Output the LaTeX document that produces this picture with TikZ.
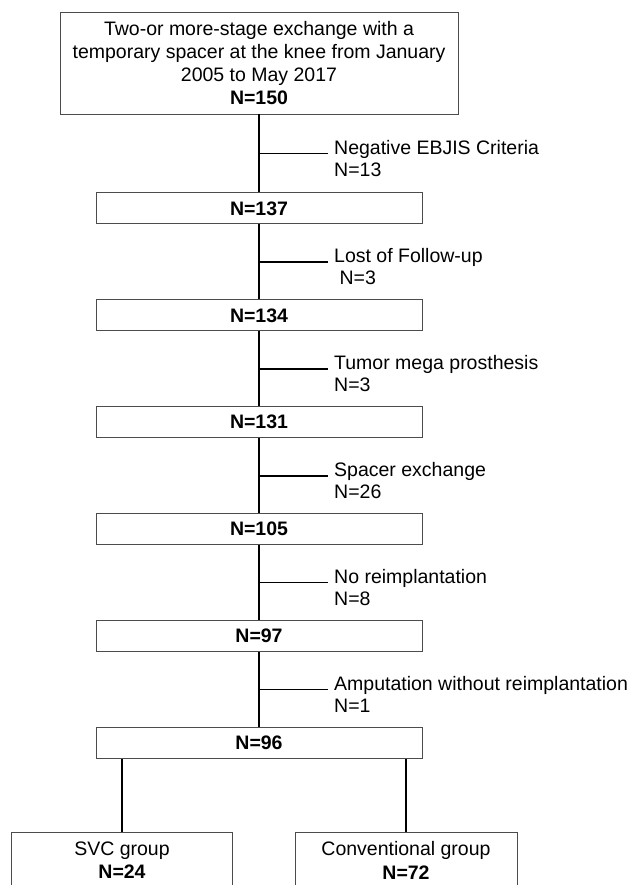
\documentclass[tikz,border=0pt]{standalone}
\usepackage{fontspec}
\setmainfont{Liberation Sans}
\usetikzlibrary{positioning}
\tikzset{
    block/.style={
        draw=black!70, line width=0.9pt,
        minimum width = 326pt,
        minimum height = 31pt,
        align = center, inner sep = 2pt,
        font = \fontsize{19.5}{23.3}\selectfont
    },
    note/.style = {align=left, inner sep=0pt, font=\fontsize{19.5}{22}\selectfont},
    every node/.style = {node distance=75pt},
    line/.style = {line width=1.7pt}
}
\begin{document}
\begin{tikzpicture}
\useasboundingbox (0,0) rectangle (638pt,-885pt);
\clip (0,0) rectangle (638pt,-885pt);

% Boxes
\node[block, minimum width=398pt, minimum height=102pt] (n150) at (259pt,-63pt)
    {Two-or more-stage exchange with a\\ temporary spacer at the knee from January\\ 2005 to May 2017\\ \textbf{N=150}};
\node[block, below = 78pt of n150] (n137) {\textbf{N=137}};
\node[block, below = of n137] (n134) {\textbf{N=134}};
\node[block, below = of n134] (n131) {\textbf{N=131}};
\node[block, below = of n131] (n105) {\textbf{N=105}};
\node[block, below = of n105] (n97) {\textbf{N=97}};
\node[block, below = of n97] (n96) {\textbf{N=96}};

% Groups
\node[block, minimum width=221pt, minimum height=56pt, below = 73pt of n96, xshift=-137pt] (svc) {SVC group\\ \textbf{N=24}};
\node[block, minimum width=222pt, minimum height=56pt, below = 73pt of n96, xshift=147pt] (conv) {Conventional group\\ \textbf{N=72}};

% Lines
\draw[line] (n150) -- (n137) coordinate[midway] (b1);
\draw[line] (n137) -- (n134) coordinate[midway] (b2);
\draw[line] (n134) -- (n131) coordinate[midway] (b3);
\draw[line] (n131) -- (n105) coordinate[midway] (b4);
\draw[line] (n105) -- (n97) coordinate[midway] (b5);
\draw[line] (n97) -- (n96) coordinate[midway] (b6);
\draw[line] (svc) -- (svc |- n96.south);
\draw[line] (conv) -- (conv |- n96.south);

% Exclusions
\draw[line] (b1) -- ++(69pt,0) coordinate (e1);
\draw[line] (b2) -- ++(69pt,0) coordinate (e2);
\draw[line] (b3) -- ++(69pt,0) coordinate (e3);
\draw[line] (b4) -- ++(69pt,0) coordinate (e4);
\draw[line] (b5) -- ++(69pt,0) coordinate (e5);
\draw[line] (b6) -- ++(69pt,0) coordinate (e6);
\node[note, right = 6pt of e1, yshift=-5pt] (x1) {Negative EBJIS Criteria\\ N=13};
\node[note, right = 6pt of e2, yshift=-5pt] (x2) {Lost of Follow-up\\ \ N=3};
\node[note, right = 6pt of e3, yshift=-5pt] (x3) {Tumor mega prosthesis\\ N=3};
\node[note, right = 6pt of e4, yshift=-5pt] (x4) {Spacer exchange\\ N=26};
\node[note, right = 6pt of e5, yshift=-5pt] (x5) {No reimplantation\\ N=8};
\node[note, right = 6pt of e6, yshift=-5pt] (x6) {Amputation without reimplantation\\ N=1};
\end{tikzpicture}
\end{document}
